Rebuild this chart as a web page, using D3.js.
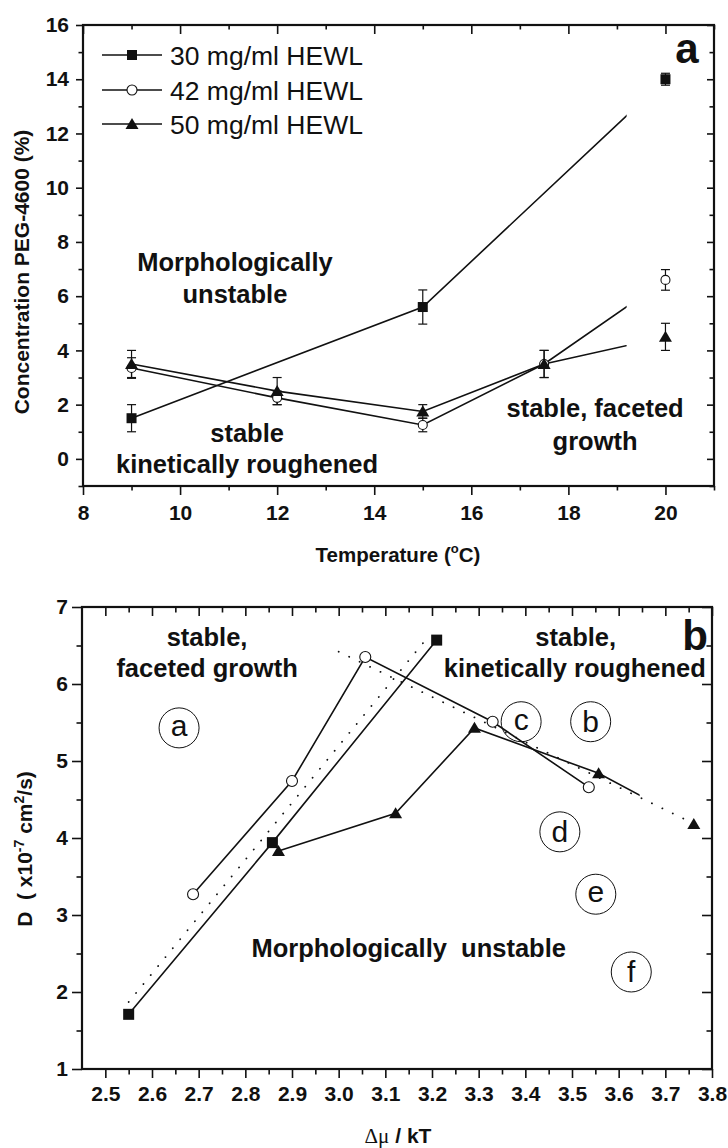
<!DOCTYPE html>
<html>
<head>
<meta charset="utf-8">
<script src="https://cdn.jsdelivr.net/npm/d3@7"></script>
<style>
  body { margin: 0; background: #fff; }
  svg { display: block; }
  text { font-family: "Liberation Sans", Arial, Helvetica, sans-serif; fill: #111; }
</style>
</head>
<body>
<svg id="fig" width="728" height="1148"></svg>
<script>
// ---------- Panel a: PEG-4600 concentration vs temperature ----------
const tempC     = [9, 12, 15, 17.5, 20];
const temp30    = [9, 15, 20];
const peg30     = [1.5, 5.6, 14.0];
const peg30Err  = [0.5, 0.63, 0.22];
const peg42     = [3.35, 2.25, 1.25, 3.5, 6.6];
const peg42Err  = [0.38, 0.25, 0.25, 0.5, 0.38];
const peg50     = [3.5, 2.5, 1.75, 3.5, 4.5];
const peg50Err  = [0.5, 0.5, 0.25, 0.5, 0.5];
const guideEndTemp = 19.2;          // connecting lines stop short of the 20 °C points
const seriesNames = ["30 mg/ml HEWL", "42 mg/ml HEWL", "50 mg/ml HEWL"];
const tempTicks = [8, 10, 12, 14, 16, 18, 20];
const pegTicks  = [0, 2, 4, 6, 8, 10, 12, 14, 16];

// ---------- Panel b: diffusion coefficient vs supersaturation ----------
const mu30 = [2.55, 2.858, 3.21];
const D30  = [1.71, 3.94, 6.57];
const mu42 = [2.688, 2.90, 3.057, 3.33, 3.536];
const D42  = [3.27, 4.74, 6.35, 5.51, 4.66];
const mu50 = [2.871, 3.122, 3.291, 3.557, 3.761];
const D50  = [3.83, 4.32, 5.43, 4.84, 4.18];
const guideEndMu = 3.645;
const boundaryMu = [[2.55, 3.19], [3.0, 3.76]];   // dotted stability boundaries
const boundaryD  = [[1.87, 6.6], [6.42, 4.19]];
const regionLetters = ["a", "b", "c", "d", "e", "f"];
const regionMu = [2.658, 3.540, 3.391, 3.474, 3.551, 3.627];
const regionD  = [5.43, 5.51, 5.51, 4.08, 3.27, 2.26];
const muTicks = [2.5, 2.6, 2.7, 2.8, 2.9, 3.0, 3.1, 3.2, 3.3, 3.4, 3.5, 3.6, 3.7, 3.8];
const DTicks  = [1, 2, 3, 4, 5, 6, 7];

const INK = "#111";
const svg = d3.select("#fig");

// marker shapes
function drawMarker(g, kind, x, y, s) {
  if (kind === "square") {
    g.append("rect").attr("x", x - s / 2).attr("y", y - s / 2)
      .attr("width", s).attr("height", s).attr("fill", INK);
  } else if (kind === "circle") {
    g.append("circle").attr("cx", x).attr("cy", y).attr("r", s / 2)
      .attr("fill", "#fff").attr("stroke", INK).attr("stroke-width", 1.1);
  } else {
    const h = s * 0.85;
    g.append("path")
      .attr("d", `M${x},${y - h * 0.55} L${x + s / 2},${y + h * 0.45} L${x - s / 2},${y + h * 0.45} Z`)
      .attr("fill", INK);
  }
}

// Origin-style frame: outward ticks bottom/left, inward ticks top/right
function frame(g, x, y, o) {
  const [x0, x1] = x.range(), [y0, y1] = y.range();
  const bottom = g.append("g").attr("transform", `translate(0,${y0})`)
    .call(d3.axisBottom(x).tickValues(o.xMajor).tickSize(o.tick).tickSizeOuter(0)
      .tickPadding(o.xPad).tickFormat(o.xFmt));
  g.append("g").attr("transform", `translate(0,${y0})`)
    .call(d3.axisBottom(x).tickValues(o.xMinor).tickSize(o.minor).tickSizeOuter(0).tickFormat(""));
  const left = g.append("g").attr("transform", `translate(${x0},0)`)
    .call(d3.axisLeft(y).tickValues(o.yMajor).tickSize(o.ytick).tickSizeOuter(0)
      .tickPadding(o.yPad).tickFormat(o.yFmt));
  g.append("g").attr("transform", `translate(${x0},0)`)
    .call(d3.axisLeft(y).tickValues(o.yMinor).tickSize(o.minor).tickSizeOuter(0).tickFormat(""));
  g.append("g").attr("transform", `translate(0,${y1})`)
    .call(d3.axisTop(x).tickValues(o.xMajor).tickSize(-o.tick).tickSizeOuter(0).tickFormat(""));
  g.append("g").attr("transform", `translate(0,${y1})`)
    .call(d3.axisTop(x).tickValues(o.xMinor).tickSize(-o.minor).tickSizeOuter(0).tickFormat(""));
  g.append("g").attr("transform", `translate(${x1},0)`)
    .call(d3.axisRight(y).tickValues(o.yMajor).tickSize(-o.ytick).tickSizeOuter(0).tickFormat(""));
  g.append("g").attr("transform", `translate(${x1},0)`)
    .call(d3.axisRight(y).tickValues(o.yMinor).tickSize(-o.minor).tickSizeOuter(0).tickFormat(""));
  g.selectAll(".domain").remove();
  g.selectAll(".tick line").attr("stroke", INK).attr("stroke-width", 1.6);
  g.selectAll(".tick text").attr("fill", INK).style("font-size", "21px")
    .style("font-weight", "bold").style("font-family", '"Liberation Sans", Arial, sans-serif');
  g.append("rect").attr("x", x0).attr("y", y1).attr("width", x1 - x0).attr("height", y0 - y1)
    .attr("fill", "none").attr("stroke", INK).attr("stroke-width", 2.2);
}

function label(g, txt, x, y, size, weight, anchor) {
  return g.append("text").attr("x", x).attr("y", y).attr("text-anchor", anchor || "middle")
    .style("font-size", size + "px").style("font-weight", weight || "bold")
    .style("white-space", "pre").text(txt);
}

// ================= Panel a =================
const ga = svg.append("g");
const xa = d3.scaleLinear().domain([8, 21]).range([83, 714]);
const ya = d3.scaleLinear().domain([-1, 16]).range([486, 25]);

ga.append("clipPath").attr("id", "clipA").append("rect")
  .attr("x", xa(8)).attr("y", ya(16)).attr("width", xa(guideEndTemp) - xa(8)).attr("height", ya(-1) - ya(16));

const seriesA = [
  { xs: temp30, ys: peg30, es: peg30Err, kind: "square", size: 10 },
  { xs: tempC,  ys: peg42, es: peg42Err, kind: "circle", size: 9 },
  { xs: tempC,  ys: peg50, es: peg50Err, kind: "triangle", size: 13 }
];
const lineA = d3.line().x(d => xa(d[0])).y(d => ya(d[1]));
seriesA.forEach(s => {
  const pts = s.xs.map((t, i) => [t, s.ys[i]]);
  ga.append("path").attr("d", lineA(pts)).attr("fill", "none").attr("stroke", INK)
    .attr("stroke-width", 1.6).attr("clip-path", "url(#clipA)");
});
seriesA.forEach(s => {
  s.xs.forEach((t, i) => {
    const cx = xa(t), top = ya(s.ys[i] + s.es[i]), bot = ya(s.ys[i] - s.es[i]);
    ga.append("line").attr("x1", cx).attr("x2", cx).attr("y1", top).attr("y2", bot)
      .attr("stroke", INK).attr("stroke-width", 1.2);
    [top, bot].forEach(yy => ga.append("line").attr("x1", cx - 4.5).attr("x2", cx + 4.5)
      .attr("y1", yy).attr("y2", yy).attr("stroke", INK).attr("stroke-width", 1.2));
  });
});
seriesA.forEach(s => s.xs.forEach((t, i) => drawMarker(ga, s.kind, xa(t), ya(s.ys[i]), s.size)));

frame(ga, xa, ya, {
  xMajor: tempTicks, xMinor: d3.range(9, 22, 2), yMajor: pegTicks, yMinor: d3.range(-1, 16, 2),
  tick: 9, ytick: 7, minor: 4.5, xPad: 10, yPad: 7,
  xFmt: d3.format("d"), yFmt: d3.format("d")
});

// legend
const legRows = [55, 90, 124];
seriesA.forEach((s, i) => {
  ga.append("line").attr("x1", 102).attr("x2", 162).attr("y1", legRows[i]).attr("y2", legRows[i])
    .attr("stroke", INK).attr("stroke-width", 1.3);
  drawMarker(ga, s.kind, 132, legRows[i], s.kind === "circle" ? 10 : s.kind === "square" ? 10 : 13);
  label(ga, seriesNames[i], 170, legRows[i] + 10, 26.5, "normal", "start");
});

label(ga, "a", 687, 63, 42);
label(ga, "Morphologically", xa(11.13), ya(6.94), 25.5);
label(ga, "unstable", xa(11.13), ya(5.75), 25.5);
label(ga, "stable", xa(11.38), ya(0.635), 25.5);
label(ga, "kinetically roughened", xa(11.38), ya(-0.51), 25.5);
label(ga, "stable, faceted", xa(18.55), ya(1.56), 25.5);
label(ga, "growth", xa(18.55), ya(0.33), 25.5);

// axis titles
const tA = ga.append("text").attr("text-anchor", "middle")
  .attr("transform", `translate(29,272) rotate(-90)`)
  .style("font-size", "21px").style("font-weight", "bold");
tA.text("Concentration PEG-4600 (%)");
const tX = ga.append("text").attr("x", 398).attr("y", 562).attr("text-anchor", "middle")
  .style("font-size", "20.5px").style("font-weight", "bold");
tX.append("tspan").text("Temperature (");
tX.append("tspan").attr("dy", -9).style("font-size", "13px").text("o");
tX.append("tspan").attr("dy", 9).text("C)");

// ================= Panel b =================
const gb = svg.append("g");
const xb = d3.scaleLinear().domain([2.45, 3.8]).range([82, 712]);
const yb = d3.scaleLinear().domain([1, 7]).range([1069, 607]);

gb.append("clipPath").attr("id", "clipB").append("rect")
  .attr("x", xb(2.45)).attr("y", yb(7)).attr("width", xb(guideEndMu) - xb(2.45)).attr("height", yb(1) - yb(7));

const lineB = d3.line().x(d => xb(d[0])).y(d => yb(d[1]));
boundaryMu.forEach((m, i) => {
  gb.append("path").attr("d", lineB(m.map((v, j) => [v, boundaryD[i][j]])))
    .attr("fill", "none").attr("stroke", INK).attr("stroke-width", 1.8)
    .attr("stroke-linecap", "round").attr("stroke-dasharray", "0.1 11.5");
});
const seriesB = [
  { xs: mu30, ys: D30, kind: "square", size: 11 },
  { xs: mu42, ys: D42, kind: "circle", size: 11 },
  { xs: mu50, ys: D50, kind: "triangle", size: 13 }
];
seriesB.forEach(s => {
  gb.append("path").attr("d", lineB(s.xs.map((v, i) => [v, s.ys[i]])))
    .attr("fill", "none").attr("stroke", INK).attr("stroke-width", 1.6).attr("clip-path", "url(#clipB)");
});
seriesB.forEach(s => s.xs.forEach((v, i) => drawMarker(gb, s.kind, xb(v), yb(s.ys[i]), s.size)));

// region markers
regionLetters.forEach((L, i) => {
  const cx = xb(regionMu[i]), cy = yb(regionD[i]);
  gb.append("circle").attr("cx", cx).attr("cy", cy).attr("r", 20)
    .attr("fill", "none").attr("stroke", INK).attr("stroke-width", 1);
  label(gb, L, cx, cy + ("bdf".includes(L) ? 10.5 : 8), 30, "normal");
});

frame(gb, xb, yb, {
  xMajor: muTicks, xMinor: d3.range(2.55, 3.8, 0.1), yMajor: DTicks, yMinor: d3.range(1.5, 7, 1),
  tick: 9, ytick: 10, minor: 5.5, xPad: 8, yPad: 4,
  xFmt: d3.format(".1f"), yFmt: d3.format("d")
});

label(gb, "b", 695, 650, 42);
label(gb, "stable,", xb(2.718), yb(6.49), 25.5);
label(gb, "faceted growth", xb(2.718), yb(6.09), 25.5);
label(gb, "stable,", xb(3.508), yb(6.49), 25.5);
label(gb, "kinetically roughened", xb(3.506), yb(6.09), 25.5);
label(gb, "Morphologically  unstable", xb(3.15), yb(2.455), 25.5);

const tB = gb.append("text").attr("text-anchor", "middle")
  .attr("transform", `translate(32,849) rotate(-90)`)
  .style("font-size", "21px").style("font-weight", "bold").style("white-space", "pre");
tB.append("tspan").text("D  ( x10");
tB.append("tspan").attr("dy", -8).style("font-size", "14px").text("-7");
tB.append("tspan").attr("dy", 8).text(" cm");
tB.append("tspan").attr("dy", -8).style("font-size", "14px").text("2");
tB.append("tspan").attr("dy", 8).text("/s)");

const tMu = gb.append("text").attr("x", 398).attr("y", 1143).attr("text-anchor", "middle")
  .style("font-size", "21px").style("white-space", "pre");
tMu.append("tspan").style("font-family", '"Liberation Serif", "Times New Roman", serif')
  .style("font-weight", "normal").text("\u0394\u03bc");
tMu.append("tspan").style("font-weight", "bold").text(" / kT");
</script>
</body>
</html>
